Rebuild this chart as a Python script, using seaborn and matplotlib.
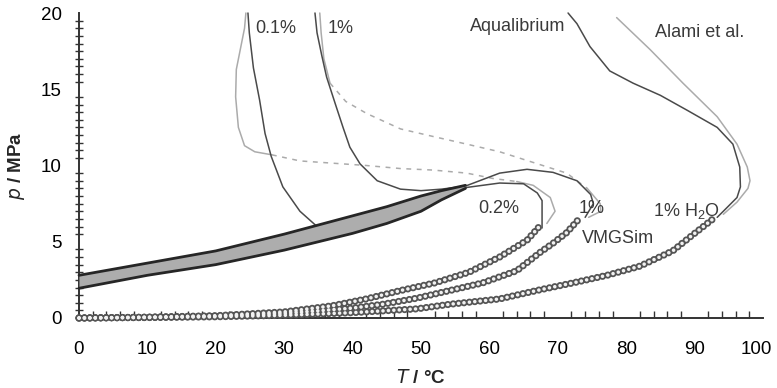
import matplotlib
matplotlib.use("Agg")
import matplotlib.pyplot as plt
from matplotlib.ticker import MultipleLocator
from matplotlib.transforms import ScaledTranslation
import seaborn as sns

# ---------------- data ----------------
# hydrate band (grey filled)
band_T = [0, 10, 20, 30, 35, 40, 45, 50, 53, 56.5]
band_upper = [2.8, 3.6, 4.4, 5.5, 6.1, 6.7, 7.3, 8.0, 8.35, 8.7]
band_lower = [1.95, 2.8, 3.5, 4.45, 5.0, 5.55, 6.2, 7.0, 7.75, 8.5]

# bubble-point curves drawn with circles
c02_T = [0, 10, 20, 30, 37, 42, 47, 52, 57, 61.5, 65.5, 67.5]
c02_p = [0.0, 0.05, 0.15, 0.4, 0.8, 1.25, 1.8, 2.3, 3.0, 4.0, 5.1, 6.1]
c1_T = [0, 10, 20, 30, 40, 44.4, 49.4, 54.2, 59, 64, 67.4, 69.3, 71.3, 73.3]
c1_p = [0.0, 0.05, 0.12, 0.3, 0.65, 0.9, 1.3, 1.8, 2.3, 3.1, 4.3, 4.9, 5.6, 6.6]
cw_T = [0, 10, 20, 30, 40, 49.4, 54.2, 61.5, 67.4, 72.2, 77.2, 82, 86.8, 89.3, 92.7]
cw_p = [0.0, 0.03, 0.08, 0.18, 0.35, 0.6, 0.9, 1.25, 1.85, 2.3, 2.8, 3.4, 4.4, 5.3, 6.5]

# 0.1 % curves
d01_T = [24.7, 24.9, 25.5, 26.4, 27.2, 28.1, 29.8, 32.3, 34.8]
d01_p = [20, 18.7, 16.4, 14.3, 12.1, 10.6, 8.6, 7.0, 6.0]
l01a_T = [24.4, 24.2, 23.0, 22.9, 23.3, 24.2, 25.7, 28.2]
l01a_p = [20, 19.0, 16.3, 14.5, 12.5, 11.3, 10.9, 10.7]
l01b_T = [28.2, 32.3, 42.0, 47.0, 51.8, 56.7, 60.5, 64.0]
l01b_p = [10.7, 10.3, 10.0, 9.8, 9.7, 9.5, 9.15, 8.95]
l01c_T = [64.0, 66.4, 68.9, 69.6, 68.4]
l01c_p = [8.95, 8.7, 7.9, 7.0, 6.2]

# 0.2 % inner loop
d02_T = [56.5, 61.5, 65.0, 67.0, 67.7, 67.7]
d02_p = [8.55, 8.85, 8.8, 8.2, 7.7, 5.9]

# 1 % curves
d1_T = [34.5, 34.8, 35.5, 36.2, 37.5, 38.6, 39.6, 41.1, 43.6, 47.0, 50.0, 53.0,
        56.5, 61.5, 65.5, 69.3, 72.8, 74.8, 75.2, 74.0]
d1_p = [20, 18.7, 17.2, 15.8, 14.0, 12.5, 11.2, 10.1, 9.0, 8.45, 8.35, 8.45,
        8.65, 9.5, 9.75, 9.55, 9.0, 8.1, 7.5, 6.6]
l1a_T = [35.2, 35.4, 35.8, 36.7]
l1a_p = [20, 18.7, 17.0, 15.4]
l1b_T = [36.7, 39.0, 42.1, 47.0, 51.8, 56.7, 61.5, 66.4, 71.3, 74.3]
l1b_p = [15.4, 14.2, 13.4, 12.4, 11.9, 11.4, 10.9, 10.2, 9.5, 8.5]
l1c_T = [74.3, 76.2, 76.3, 74.5]
l1c_p = [8.5, 7.5, 7.0, 6.6]

# Aqualibrium / Alami et al. (1 % H2O)
aq_T = [71.5, 72.8, 74.7, 77.6, 81.0, 85.0, 89.0, 93.3, 95.6, 96.6, 96.7, 96.2, 94.2, 93.3]
aq_p = [20, 19.3, 17.8, 16.2, 15.4, 14.6, 13.6, 12.5, 11.4, 9.9, 8.6, 7.9, 7.0, 6.6]
al_T = [78.6, 83.5, 88.3, 93.3, 96.2, 97.7, 98.1, 97.8, 96.2, 94.2]
al_p = [19.7, 17.6, 15.4, 13.2, 11.4, 9.9, 9.0, 8.5, 7.6, 6.8]

labels = ["0.1%", "1%", "Aqualibrium", "Alami et al.", "0.2%", "1%", "VMGSim", "1% H$_2$O"]
label_T = [25.7, 36.4, 57.2, 84.2, 58.3, 73.0, 73.5, 83.9]
label_p = [19.0, 19.0, 19.1, 18.7, 7.2, 7.2, 5.2, 7.0]

x_ticks = [0, 10, 20, 30, 40, 50, 60, 70, 80, 90, 100]
y_ticks = [0, 5, 10, 15, 20]

# ---------------- style ----------------
sns.set_theme(style="white")
plt.rcParams["font.family"] = ["Liberation Sans", "DejaVu Sans"]
plt.rcParams["mathtext.default"] = "regular"
plt.rcParams["lines.scale_dashes"] = False

DARK = "#4a4a4a"
LIGHT = "#ababab"

fig = plt.figure(figsize=(7.77, 3.88), dpi=100)
ax = fig.add_axes([79 / 777, 1 - 318 / 388, (763 - 79) / 777, (318 - 13) / 388])


def line(T, p, color, lw=1.0, ls="-", z=3, **kw):
    sns.lineplot(x=T, y=p, sort=False, estimator=None, color=color, lw=lw,
                 ls=ls, ax=ax, zorder=z, **kw)


# band
ax.fill_between(band_T, band_lower, band_upper, color="#adadad", lw=0, zorder=4)
line(band_T, band_upper, "#262626", lw=2.0, z=5)
line(band_T, band_lower, "#262626", lw=2.0, z=5)

# circle curves (chains of hollow circles)
dots = (0, (0.01, 3.9))
for T, p in [(c02_T, c02_p), (c1_T, c1_p), (cw_T, cw_p)]:
    line(T, p, "#555555", lw=5.2, ls=dots, z=6, dash_capstyle="round")
for T, p in [(c02_T, c02_p), (c1_T, c1_p), (cw_T, cw_p)]:
    line(T, p, "#f2f2f2", lw=2.6, ls=dots, z=7, dash_capstyle="round")

# thin lines
dash = (0, (3.5, 4.0))
line(l01a_T, l01a_p, LIGHT, lw=1.1)
line(l01b_T, l01b_p, LIGHT, lw=1.1, ls=dash)
line(l01c_T, l01c_p, LIGHT, lw=1.1)
line(d01_T, d01_p, DARK, lw=1.1)
line(d02_T, d02_p, DARK, lw=1.1)
line(l1a_T, l1a_p, LIGHT, lw=1.1)
line(l1b_T, l1b_p, LIGHT, lw=1.1, ls=dash)
line(l1c_T, l1c_p, LIGHT, lw=1.1)
line(d1_T, d1_p, DARK, lw=1.1)
line(al_T, al_p, LIGHT, lw=1.1)
line(aq_T, aq_p, DARK, lw=1.1)

for s, T, p in zip(labels, label_T, label_p):
    ax.text(T, p, s, fontsize=13, color="#3a3a3a", ha="left", va="center", zorder=8)

# axes
ax.set_xlim(0, 100)
ax.set_ylim(0, 20)
ax.set_xticks(x_ticks)
ax.set_yticks(y_ticks)
ax.xaxis.set_minor_locator(MultipleLocator(2))
ax.yaxis.set_minor_locator(MultipleLocator(0.5))
ax.tick_params(which="major", direction="inout", length=11, width=1.3,
               color="#333333", labelsize=13.5, labelcolor="black")
ax.tick_params(axis="x", which="major", pad=11)
ax.tick_params(axis="y", which="major", pad=7)
ax.tick_params(axis="y", which="minor", direction="inout", length=6, width=1.0, color="#333333", left=True)
ax.tick_params(axis="x", which="minor", direction="in", length=5, width=1.0, color="#333333", bottom=True)
for s in ["top", "right"]:
    ax.spines[s].set_visible(False)
for s in ["left", "bottom"]:
    ax.spines[s].set_color("#333333")
    ax.spines[s].set_linewidth(1.4)
ax.set_xlabel(r"$\mathbf{\mathit{T}}$ / °C", fontsize=13.5, fontweight="bold", labelpad=8)
ax.set_ylabel(r"$\mathbf{\mathit{p}}$ / MPa", fontsize=13.5, fontweight="bold", labelpad=10)
for ln in ax.lines:
    ln.set_clip_on(False)

fig.canvas.draw()
last = ax.get_xticklabels()[-1]
last.set_transform(last.get_transform() + ScaledTranslation(-5 / 72, 0, fig.dpi_scale_trans))

fig.savefig("out.png", dpi=100)
